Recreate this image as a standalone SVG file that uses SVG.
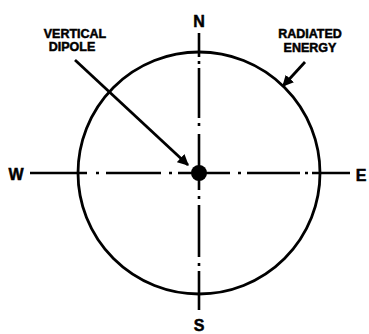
<svg xmlns="http://www.w3.org/2000/svg" width="369" height="334" viewBox="0 0 369 334">
<defs>
<style>
.ln{stroke:#000;stroke-width:2.8;fill:none;stroke-linecap:butt}
.ax{stroke:#000;stroke-width:2.6;fill:none}
.lbl{font-family:"Liberation Sans",Arial,sans-serif;font-weight:bold;fill:#000;stroke:#000;stroke-width:0.5;text-anchor:middle}
.sm{font-size:12.5px}
.big{font-size:16px}
</style>
<marker id="ah" viewBox="0 0 10 10" refX="9" refY="5" markerWidth="4" markerHeight="4" orient="auto">
<path d="M0,0 L10,5 L0,10 Z" fill="#000"/>
</marker>
</defs>
<rect width="369" height="334" fill="#fff"/>
<g id="pattern">
<circle cx="199" cy="173" r="121" class="ln" stroke-width="3"/>
</g>
<g id="axes">
<path class="ax" d="M30,173 H87 M96,173 H99 M106,173 H161 M169,173 H172 M178,173 H199 M199,173 H230 M238,173 H241 M247,173 H300 M305,173 H308 M312,173 H350"/>
<path class="ax" d="M199,33 V57 M199,61 V64 M199,68 V118 M199,123 V126 M199,134 V173 M199,173 V190 M199,196 V199 M199,205 V257 M199,263 V266 M199,271 V310"/>
</g>
<g id="dipole">
<circle cx="199" cy="173" r="8" fill="#000"/>
</g>
<g id="connectors">
<line x1="75" y1="60" x2="188" y2="165" class="ln" stroke-width="2.6" marker-end="url(#ah)"/>
<line x1="305" y1="62" x2="283" y2="86" class="ln" stroke-width="2.6" marker-end="url(#ah)"/>
</g>
<g id="labels">
<text x="75" y="38" class="lbl sm">VERTICAL</text>
<text x="72" y="51" class="lbl sm">DIPOLE</text>
<text x="310" y="38" class="lbl sm">RADIATED</text>
<text x="310" y="52" class="lbl sm">ENERGY</text>
<text x="199" y="27" class="lbl big">N</text>
<text x="199" y="331" class="lbl big">S</text>
<text x="16" y="180" class="lbl big">W</text>
<text x="361" y="181" class="lbl big">E</text>
</g>
</svg>
